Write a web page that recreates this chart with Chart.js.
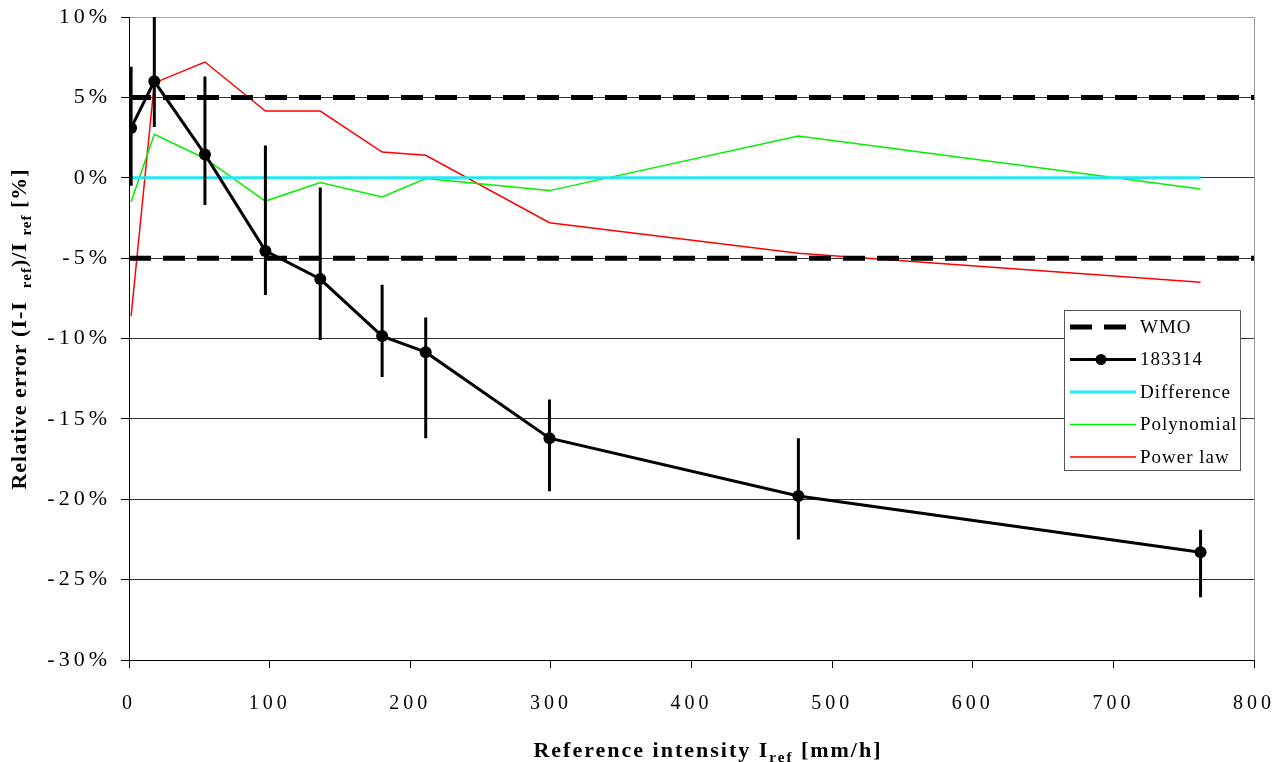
<!DOCTYPE html>
<html>
<head>
<meta charset="utf-8">
<script src="https://cdn.jsdelivr.net/npm/chart.js@4.4.0/dist/chart.umd.min.js"></script>
<style>
html, body { margin: 0; padding: 0; background: #fff; }
</style>
</head>
<body>
<canvas id="TChart" width="1283" height="762"></canvas>
<script>
// reference intensity [mm/h]
var xValues = [1.5, 18, 54, 97, 136, 180, 211, 299, 476, 762];
// gauge 183314 relative error [%] and its error bar ends
var gaugeErr = [3.1, 6.0, 1.45, -4.55, -6.3, -9.85, -10.85, -16.2, -19.8, -23.3];
var errLow = [-0.5, 3.15, -1.7, -7.3, -10.1, -12.4, -16.2, -19.5, -22.5, -26.1];
var errHigh = [6.9, 10.5, 6.3, 2.0, -0.6, -6.65, -8.7, -13.8, -16.2, -21.9];
// corrected series
var difference = [0, 0, 0, 0, 0, 0, 0, 0, 0, 0];
var polynomial = [-1.5, 2.7, 1.2, -1.45, -0.3, -1.2, -0.05, -0.8, 2.6, -0.7];
var powerLaw = [-8.6, 5.9, 7.2, 4.15, 4.15, 1.6, 1.4, -2.8, -4.7, -6.5];
// WMO limits
var wmoLimits = [5, -5];
var xRange = [0, 800];
var xTicks = [0, 100, 200, 300, 400, 500, 600, 700, 800];
var yTicks = [-30, -25, -20, -15, -10, -5, 0, 5, 10];

var legendOrder = ['WMO', '183314', 'Difference', 'Polynomial', 'Power law'];
var FONT = "'Liberation Serif', serif";

function pts(ys) {
	return xValues.map(function (x, i) { return { x: x, y: ys[i] }; });
}

var errPts = [];
for (var i = 0; i < xValues.length; i++) {
	errPts.push({ x: xValues[i], y: errLow[i] });
	errPts.push({ x: xValues[i], y: errHigh[i] });
	errPts.push({ x: xValues[i], y: null });
}

var datasets = [
	{ label: 'errors', data: errPts, borderColor: '#000', borderWidth: 3, pointRadius: 0, spanGaps: false, borderCapStyle: 'butt' },
	{ label: '183314', data: pts(gaugeErr), borderColor: '#000', borderWidth: 3, pointRadius: 6,
	  pointBackgroundColor: '#000', pointBorderWidth: 0, inLegend: true }
];
wmoLimits.forEach(function (v, k) {
	datasets.push({ label: 'WMO', data: [{ x: xRange[0], y: v }, { x: xRange[1], y: v }],
		borderColor: '#000', borderWidth: 5, borderDash: [22, 12], pointRadius: 0, inLegend: k == 0 });
});
datasets.push({ label: 'Difference', data: pts(difference), borderColor: '#22e8f4', borderWidth: 3, pointRadius: 0, inLegend: true });
datasets.push({ label: 'Polynomial', data: pts(polynomial), borderColor: '#00f000', borderWidth: 1.5, pointRadius: 0, inLegend: true });
datasets.push({ label: 'Power law', data: pts(powerLaw), borderColor: '#ff0000', borderWidth: 1.5, pointRadius: 0, inLegend: true });

// draws text pieces with subscripts, centered on cx
function richText(ctx, parts, cx, cy, size) {
	var main = 'bold ' + size + 'px ' + FONT, sub = 'bold ' + Math.round(size * 0.68) + 'px ' + FONT;
	var total = 0;
	parts.forEach(function (p) {
		ctx.font = p.sub ? sub : main;
		p.w = ctx.measureText(p.t).width;
		total += p.w;
	});
	var x = cx - total / 2;
	ctx.textAlign = 'left';
	ctx.textBaseline = 'alphabetic';
	parts.forEach(function (p) {
		ctx.font = p.sub ? sub : main;
		ctx.fillText(p.t, x, cy + (p.sub ? 5 : 0));
		x += p.w;
	});
}

var extras = {
	id: 'extras',
	beforeDraw: function (chart) {
		chart.ctx.letterSpacing = '4px';
	},
	beforeDatasetsDraw: function (chart) {
		var ctx = chart.ctx, a = chart.chartArea;
		ctx.save();
		ctx.strokeStyle = '#9a9a9a';
		ctx.lineWidth = 1;
		ctx.beginPath();
		ctx.moveTo(a.right + 0.5, a.top);
		ctx.lineTo(a.right + 0.5, a.bottom);
		ctx.stroke();
		ctx.restore();
	},
	afterDraw: function (chart) {
		var ctx = chart.ctx;
		ctx.save();
		ctx.fillStyle = '#000';
		// x title
		ctx.letterSpacing = '2px';
		richText(ctx, [{ t: 'Reference intensity I' }, { t: 'ref', sub: true }, { t: ' [mm/h]' }], 708, 757, 22);
		// y title
		ctx.letterSpacing = '1px';
		ctx.translate(26, 329);
		ctx.rotate(-Math.PI / 2);
		richText(ctx, [{ t: 'Relative error (I-I  ' }, { t: 'ref', sub: true }, { t: ')/I ' }, { t: 'ref', sub: true }, { t: ' [%]' }], 0, 0, 22);
		ctx.restore();

		// legend box
		var bx = 1064, by = 310, bw = 176, bh = 160;
		ctx.save();
		ctx.fillStyle = '#fff';
		ctx.fillRect(bx, by, bw, bh);
		ctx.strokeStyle = '#555';
		ctx.lineWidth = 1;
		ctx.strokeRect(bx + 0.5, by + 0.5, bw, bh);
		ctx.font = '19px ' + FONT;
		ctx.letterSpacing = '1px';
		ctx.textBaseline = 'middle';
		ctx.textAlign = 'left';
		legendOrder.forEach(function (name, r) {
			var ds = chart.data.datasets.filter(function (d) { return d.label == name && d.inLegend; })[0];
			var y = by + 17 + r * 32.5;
			ctx.strokeStyle = ds.borderColor;
			ctx.lineWidth = ds.borderWidth;
			ctx.setLineDash(ds.borderDash || []);
			ctx.beginPath();
			ctx.moveTo(bx + 6, y);
			ctx.lineTo(bx + (ds.borderDash ? 63 : 72), y);
			ctx.stroke();
			ctx.setLineDash([]);
			if (ds.pointRadius > 0) {
				ctx.fillStyle = ds.pointBackgroundColor;
				ctx.beginPath();
				ctx.arc(bx + 37, y, 5.5, 0, Math.PI * 2);
				ctx.fill();
			}
			ctx.fillStyle = '#000';
			ctx.fillText(name, bx + 76, y + 1);
		});
		ctx.restore();
	}
};

new Chart(document.getElementById('TChart'), {
	type: 'line',
	data: { datasets: datasets },
	options: {
		responsive: false,
		animation: false,
		layout: { padding: { top: 17, right: 29, left: 0, bottom: 0 } },
		plugins: { legend: { display: false }, tooltip: { enabled: false } },
		elements: { line: { tension: 0 } },
		scales: {
			x: {
				type: 'linear',
				min: xRange[0], max: xRange[1],
				afterBuildTicks: function (s) { s.ticks = xTicks.map(function (v) { return { value: v }; }); },
				ticks: { color: '#000', font: { family: FONT, size: 20 }, padding: 24, maxRotation: 0, autoSkip: false },
				grid: { drawOnChartArea: false, drawTicks: true, tickLength: 8, tickColor: '#000' },
				border: { color: '#000', width: 1 },
				afterFit: function (s) { s.height = 102; s.paddingLeft = 0; s.paddingRight = 0; }
			},
			y: {
				type: 'linear',
				min: -30, max: 10,
				afterBuildTicks: function (s) { s.ticks = yTicks.map(function (v) { return { value: v }; }); },
				ticks: { color: '#000', font: { family: FONT, size: 22 }, padding: 10,
					callback: function (v) { return v + '%'; } },
				grid: {
					color: function (c) { return c.tick && c.tick.value == 10 ? '#a8a8a8' : '#333'; },
					lineWidth: 1, tickLength: 8, tickColor: '#000'
				},
				border: { color: '#000', width: 1 },
				afterFit: function (s) { s.width = 129; s.paddingTop = 0; s.paddingBottom = 0; }
			}
		}
	},
	plugins: [extras]
});
</script>
</body>
</html>
